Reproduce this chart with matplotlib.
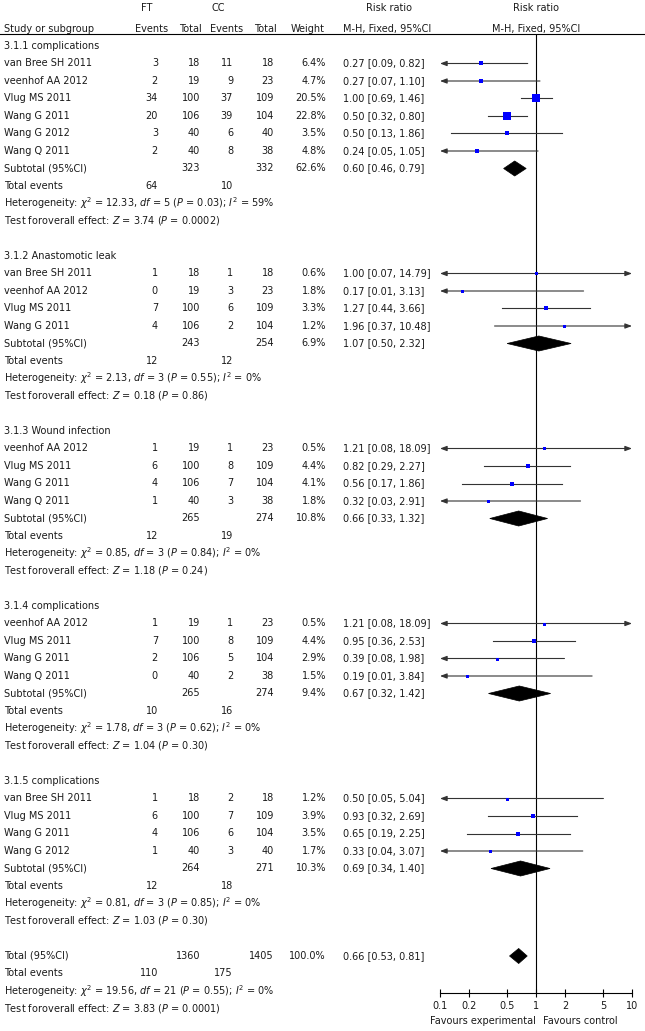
import matplotlib.pyplot as plt
from matplotlib.patches import Polygon

# subgroup titles
group_titles = ['3.1.1 complications', '3.1.2 Anastomotic leak', '3.1.3 Wound infection',
                '3.1.4 complications', '3.1.5 complications']

# one entry per study row
study_group = [0, 0, 0, 0, 0, 0, 1, 1, 1, 1, 2, 2, 2, 2, 3, 3, 3, 3, 4, 4, 4, 4]
study_names = ['van Bree SH 2011', 'veenhof AA 2012', 'Vlug MS 2011', 'Wang G 2011', 'Wang G 2012', 'Wang Q 2011',
               'van Bree SH 2011', 'veenhof AA 2012', 'Vlug MS 2011', 'Wang G 2011',
               'veenhof AA 2012', 'Vlug MS 2011', 'Wang G 2011', 'Wang Q 2011',
               'veenhof AA 2012', 'Vlug MS 2011', 'Wang G 2011', 'Wang Q 2011',
               'van Bree SH 2011', 'Vlug MS 2011', 'Wang G 2011', 'Wang G 2012']
ft_events = [3, 2, 34, 20, 3, 2, 1, 0, 7, 4, 1, 6, 4, 1, 1, 7, 2, 0, 1, 6, 4, 1]
ft_total = [18, 19, 100, 106, 40, 40, 18, 19, 100, 106, 19, 100, 106, 40, 19, 100, 106, 40, 18, 100, 106, 40]
cc_events = [11, 9, 37, 39, 6, 8, 1, 3, 6, 2, 1, 8, 7, 3, 1, 8, 5, 2, 2, 7, 6, 3]
cc_total = [18, 23, 109, 104, 40, 38, 18, 23, 109, 104, 23, 109, 104, 38, 23, 109, 104, 38, 18, 109, 104, 40]
weights = [6.4, 4.7, 20.5, 22.8, 3.5, 4.8, 0.6, 1.8, 3.3, 1.2, 0.5, 4.4, 4.1, 1.8, 0.5, 4.4, 2.9, 1.5, 1.2, 3.9, 3.5, 1.7]
rr = [0.27, 0.27, 1.00, 0.50, 0.50, 0.24, 1.00, 0.17, 1.27, 1.96, 1.21, 0.82, 0.56, 0.32,
      1.21, 0.95, 0.39, 0.19, 0.50, 0.93, 0.65, 0.33]
ci_low = [0.09, 0.07, 0.69, 0.32, 0.13, 0.05, 0.07, 0.01, 0.44, 0.37, 0.08, 0.29, 0.17, 0.03,
          0.08, 0.36, 0.08, 0.01, 0.05, 0.32, 0.19, 0.04]
ci_high = [0.82, 1.10, 1.46, 0.80, 1.86, 1.05, 14.79, 3.13, 3.66, 10.48, 18.09, 2.27, 1.86, 2.91,
           18.09, 2.53, 1.98, 3.84, 5.04, 2.69, 2.25, 3.07]

# subgroup summaries
sub_ft_total = [323, 243, 265, 265, 264]
sub_cc_total = [332, 254, 274, 274, 271]
sub_weight = [62.6, 6.9, 10.8, 9.4, 10.3]
sub_rr = [0.60, 1.07, 0.66, 0.67, 0.69]
sub_low = [0.46, 0.50, 0.33, 0.32, 0.34]
sub_high = [0.79, 2.32, 1.32, 1.42, 1.40]
sub_ft_events = [64, 12, 12, 10, 12]
sub_cc_events = [10, 12, 19, 16, 18]
het_chi2 = ['12.33', '2.13', '0.85', '1.78', '0.81']
het_df = [5, 3, 3, 3, 3]
het_p = ['0.03', '0.55', '0.84', '0.62', '0.85']
het_i2 = [59, 0, 0, 0, 0]
z_vals = ['3.74', '0.18', '1.18', '1.04', '1.03']
z_p = ['0.0002', '0.86', '0.24', '0.30', '0.30']

# overall
tot_ft_total, tot_cc_total, tot_weight = 1360, 1405, 100.0
tot_rr, tot_low, tot_high = 0.66, 0.53, 0.81
tot_ft_events, tot_cc_events = 110, 175
tot_chi2, tot_df, tot_p, tot_i2 = '19.56', 21, '0.55', 0
tot_z, tot_zp = '3.83', '0.0001'

ticks = [0.1, 0.2, 0.5, 1, 2, 5, 10]
tick_labels = ['0.1', '0.2', '0.5', '1', '2', '5', '10']

FS = 7.0
TC = '#1a1a1a'
W, H = 645, 1031
ROW0, ROWH = 46, 17.5


def row_of(py):
    return (py - ROW0) / ROWH


fig = plt.figure(figsize=(6.45, 10.31), dpi=100)
tab = fig.add_axes([0, 0, 1, 1])
tab.set_xlim(0, W)
tab.set_ylim(row_of(H), row_of(0))
tab.axis('off')

ax = fig.add_axes([440 / W, (H - 993) / H, 192 / W, (993 - 34) / H])
ax.set_xscale('log')
ax.set_xlim(0.1, 10)
ax.set_ylim(row_of(993), row_of(34))
for s in ['top', 'left', 'right']:
    ax.spines[s].set_visible(False)
ax.spines['bottom'].set_linewidth(0.8)
ax.set_yticks([])
ax.set_xticks(ticks)
ax.set_xticklabels(tick_labels)
ax.minorticks_off()
ax.tick_params(axis='x', direction='inout', length=6, width=0.8, pad=3, labelsize=FS, labelcolor=TC)
ax.axvline(1, color='black', lw=0.8)
ax.patch.set_alpha(0)


def t(x, y, s, ha='left', **kw):
    tab.text(x, y, s, ha=ha, va='center', fontsize=FS, color=TC, **kw)


# header
hy1, hy2 = row_of(8), row_of(29)
t(147, hy1, 'FT', ha='center')
t(218, hy1, 'CC', ha='center')
t(389, hy1, 'Risk ratio', ha='center')
t(536, hy1, 'Risk ratio', ha='center')
t(4, hy2, 'Study or subgroup')
t(168, hy2, 'Events', ha='right')
t(202, hy2, 'Total', ha='right')
t(243, hy2, 'Events', ha='right')
t(277, hy2, 'Total', ha='right')
t(325, hy2, 'Weight', ha='right')
t(343, hy2, 'M-H, Fixed, 95%CI')
t(536, hy2, 'M-H, Fixed, 95%CI', ha='center')
tab.plot([0, W], [row_of(34), row_of(34)], color='black', lw=0.8)

X_FTE, X_FTN, X_CCE, X_CCN, X_W, X_RR = 158, 200, 233, 274, 326, 343


def ci_line(lo, hi, y):
    a, b = max(lo, 0.1), min(hi, 10)
    kw = dict(color='#333333', lw=0.8)
    head = ',head_length=0.4,head_width=0.15'
    if lo < 0.1 and hi > 10:
        ax.annotate('', xy=(a, y), xytext=(b, y),
                    arrowprops=dict(arrowstyle='<|-|>' + head, shrinkA=0, shrinkB=0, mutation_scale=10, **kw))
    elif lo < 0.1:
        ax.annotate('', xy=(a, y), xytext=(b, y),
                    arrowprops=dict(arrowstyle='-|>' + head, shrinkA=0, shrinkB=0, mutation_scale=10, **kw))
    elif hi > 10:
        ax.annotate('', xy=(b, y), xytext=(a, y),
                    arrowprops=dict(arrowstyle='-|>' + head, shrinkA=0, shrinkB=0, mutation_scale=10, **kw))
    else:
        ax.plot([a, b], [y, y], **kw)


def diamond(m, lo, hi, y):
    h = 0.43
    ax.add_patch(Polygon([(lo, y), (m, y - h), (hi, y), (m, y + h)], closed=True,
                         facecolor='black', edgecolor='black', lw=0.5))


def summary_rows(y, fte, cce, chi2, df, p, i2, z, zp):
    t(4, y, 'Total events')
    t(X_FTE, y, str(fte), ha='right')
    t(X_CCE, y, str(cce), ha='right')
    t(4, y + 1, r'Heterogeneity: $\chi^2$ = %s, $df$ = %d ($P$ = %s); $I^2$ = %d%%' % (chi2, df, p, i2))
    t(4, y + 2, r'Test foroverall effect: $Z$ = %s ($P$ = %s)' % (z, zp))


r = 0
for g, title in enumerate(group_titles):
    t(4, r, title)
    r += 1
    for i in range(len(study_names)):
        if study_group[i] != g:
            continue
        t(4, r, study_names[i])
        t(X_FTE, r, str(ft_events[i]), ha='right')
        t(X_FTN, r, str(ft_total[i]), ha='right')
        t(X_CCE, r, str(cc_events[i]), ha='right')
        t(X_CCN, r, str(cc_total[i]), ha='right')
        t(X_W, r, '%.1f%%' % weights[i], ha='right')
        t(X_RR, r, '%.2f [%.2f, %.2f]' % (rr[i], ci_low[i], ci_high[i]))
        ci_line(ci_low[i], ci_high[i], r)
        side = max(3.0, 1.68 * weights[i] ** 0.5)
        ax.plot([rr[i]], [r], marker='s', ms=side * 0.72, color='#0000ff', mew=0, zorder=5)
        r += 1
    t(4, r, 'Subtotal (95%CI)')
    t(X_FTN, r, str(sub_ft_total[g]), ha='right')
    t(X_CCN, r, str(sub_cc_total[g]), ha='right')
    t(X_W, r, '%.1f%%' % sub_weight[g], ha='right')
    t(X_RR, r, '%.2f [%.2f, %.2f]' % (sub_rr[g], sub_low[g], sub_high[g]))
    diamond(sub_rr[g], sub_low[g], sub_high[g], r)
    summary_rows(r + 1, sub_ft_events[g], sub_cc_events[g], het_chi2[g], het_df[g], het_p[g],
                 het_i2[g], z_vals[g], z_p[g])
    r += 5

# overall
t(4, r, 'Total (95%CI)')
t(X_FTN, r, str(tot_ft_total), ha='right')
t(X_CCN, r, str(tot_cc_total), ha='right')
t(X_W, r, '%.1f%%' % tot_weight, ha='right')
t(X_RR, r, '%.2f [%.2f, %.2f]' % (tot_rr, tot_low, tot_high))
diamond(tot_rr, tot_low, tot_high, r)
summary_rows(r + 1, tot_ft_events, tot_cc_events, tot_chi2, tot_df, tot_p, tot_i2, tot_z, tot_zp)

t(483, row_of(1021), 'Favours experimental', ha='center')
t(580, row_of(1021), 'Favours control', ha='center')

fig.savefig('out.png', dpi=100)
